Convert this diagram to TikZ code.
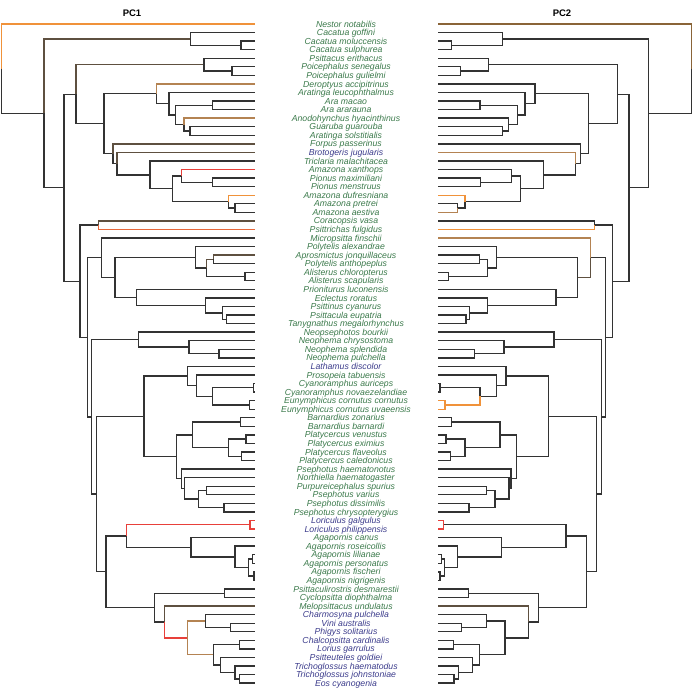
\documentclass[tikz,border=0pt]{standalone}
\usepackage{fontspec}
\setmainfont{Liberation Sans}
\usetikzlibrary{calc}
\definecolor{gcol}{HTML}{3B7A4B}
\definecolor{bcol}{HTML}{3C3C8C}
\definecolor{dk}{HTML}{333333}
\definecolor{brn}{HTML}{5E5040}
\definecolor{obr}{HTML}{B48352}
\definecolor{org}{HTML}{F0923A}
\definecolor{rd}{HTML}{E8403A}
\definecolor{rorg}{HTML}{E8683A}
\definecolor{nbrn}{HTML}{8A6438}
\newcommand\inode[5]{%
  \coordinate (tmpm) at ($(P#4)!0.5!(P#5)$);
  \coordinate (tmpa) at (#2,0);
  \coordinate (tmpb) at (#3,0);
  \coordinate (P#1) at (tmpm -| tmpa);
  \coordinate (Q#1) at (tmpm -| tmpb);
}
\tikzset{
  br/.style={line width=1.35pt},
  lab/.style={font=\fontsize{8.7}{9}\selectfont\itshape, inner sep=0pt, anchor=base},
  ttl/.style={font=\fontsize{9.5}{10}\selectfont\bfseries, inner sep=0pt}
}
\begin{document}
\begin{tikzpicture}[x=1pt,y=-1pt]
\useasboundingbox (0,0) rectangle (693,688);
\fill[white] (0,0) rectangle (693,688);
\node[ttl] (pc1) at (132,13) {PC1};
\node[ttl] (pc2) at (562,13) {PC2};
% leaves
\foreach \i in {1,...,78}{
  \coordinate (P\i) at (255,{24+(\i-1)*8.56});
  \coordinate (Q\i) at (438,{24+(\i-1)*8.56});
}
% internal nodes: id, left x, right x, child1, child2
\inode{cA}{241}{451.7}{3}{4}
\inode{cB}{190.7}{502.7}{2}{cA}
\inode{pA}{232}{460.7}{6}{7}
\inode{pB}{204}{488.3}{5}{pA}
\inode{aA}{212.3}{480}{10}{11}
\inode{aB}{190}{502.7}{13}{14}
\inode{aC}{184}{508.3}{12}{aB}
\inode{aD}{175.7}{517.3}{aA}{aC}
\inode{aE}{169}{525}{9}{aD}
\inode{aF}{156.7}{535}{8}{aE}
\inode{zA}{212.3}{480.7}{19}{20}
\inode{zB}{181.7}{511.7}{18}{zA}
\inode{zC}{235}{457.7}{22}{23}
\inode{zD}{228.3}{465}{21}{zC}
\inode{zE}{172.3}{520.7}{zB}{zD}
\inode{zF}{150}{543.3}{17}{zE}
\inode{zG}{117}{575.7}{16}{zF}
\inode{zH}{113}{580.7}{15}{zG}
\inode{aG}{104}{588.3}{aF}{zH}
\inode{pC}{76}{617.7}{pB}{aG}
\inode{kA}{98.3}{594.3}{24}{25}
\inode{yA}{213.3}{479.3}{28}{29}
\inode{yB}{245}{448.3}{30}{31}
\inode{yC}{206.7}{487.3}{yA}{yB}
\inode{yD}{195.7}{496.7}{27}{yC}
\inode{sA}{226.7}{466}{35}{36}
\inode{sB}{222.7}{469.3}{34}{sA}
\inode{sC}{205.7}{487.3}{33}{sB}
\inode{sD}{136.7}{556}{32}{sC}
\inode{yE}{115}{577.3}{yD}{sD}
\inode{mA}{101.7}{590.7}{26}{yE}
\inode{nA}{219}{474.3}{39}{40}
\inode{nB}{189}{504}{38}{nA}
\inode{nC}{138.3}{554}{37}{nB}
\inode{cyA}{253.3}{440}{43}{44}
\inode{cyB}{249.3}{445}{45}{46}
\inode{cyC}{212.7}{480}{cyA}{cyB}
\inode{cyD}{196.7}{496.7}{42}{cyC}
\inode{cyE}{187.7}{506}{41}{cyD}
\inode{plA}{240.7}{451.7}{47}{48}
\inode{plB}{246}{446}{49}{50}
\inode{plC}{241.7}{450.7}{51}{52}
\inode{plD}{228.3}{465}{plB}{plC}
\inode{plE}{192.3}{500}{plA}{plD}
\inode{psA}{206.7}{486.7}{55}{56}
\inode{psB}{224}{469}{57}{58}
\inode{psC}{198.3}{495}{psA}{psB}
\inode{psD}{184.3}{509}{54}{psC}
\inode{psE}{181.7}{511}{53}{psD}
\inode{plF}{176.7}{516.7}{plE}{psE}
\inode{cyF}{144}{548.3}{cyE}{plF}
\inode{loA}{250}{443.3}{59}{60}
\inode{agA}{252.3}{441.7}{63}{64}
\inode{agB}{254}{440}{65}{66}
\inode{agC}{248.3}{444.3}{agA}{agB}
\inode{agD}{235}{457.7}{62}{agC}
\inode{agE}{191}{501.7}{61}{agD}
\inode{loB}{126.7}{566}{loA}{agE}
\inode{lrA}{224.3}{468.3}{67}{68}
\inode{lrB}{230.7}{461.7}{71}{72}
\inode{lrC}{205.7}{486.7}{70}{lrB}
\inode{lrD}{239.3}{453.3}{73}{74}
\inode{lrE}{239.3}{454}{77}{78}
\inode{lrF}{235}{458.7}{76}{lrE}
\inode{lrG}{220.7}{472.3}{75}{lrF}
\inode{lrH}{213.3}{479.3}{lrD}{lrG}
\inode{lrI}{187.7}{505}{lrC}{lrH}
\inode{lrJ}{164.3}{528.3}{69}{lrI}
\inode{lrK}{154.3}{538.3}{lrA}{lrJ}
\inode{loC}{106}{586.7}{loB}{lrK}
\inode{bA}{96.7}{596.7}{cyF}{loC}
\inode{bB}{91.7}{601.7}{nC}{bA}
\inode{bC}{87.3}{605.7}{mA}{bB}
\inode{bD}{80}{612.7}{kA}{bC}
\inode{bE}{64}{629}{pC}{bD}
\inode{bF}{44}{648.3}{cB}{bE}
\inode{root}{1.5}{691.5}{1}{bF}
% branches: parent/child/left colour/right colour
\foreach \p/\c/\lc/\rc in {
 root/1/org/nbrn, root/bF/dk/dk, bF/cB/brn/dk, bF/bE/dk/dk,
 cB/2/dk/dk, cB/cA/dk/dk, cA/3/dk/dk, cA/4/dk/dk,
 bE/pC/dk/dk, bE/bD/dk/dk, pC/pB/brn/dk, pC/aG/dk/dk,
 pB/5/dk/dk, pB/pA/dk/dk, pA/6/dk/dk, pA/7/dk/dk,
 aG/aF/dk/dk, aG/zH/dk/dk, aF/8/obr/dk, aF/aE/dk/dk,
 aE/9/dk/dk, aE/aD/dk/dk, aD/aA/dk/dk, aD/aC/dk/dk,
 aA/10/dk/dk, aA/11/dk/dk, aC/12/obr/dk, aC/aB/dk/dk,
 aB/13/dk/dk, aB/14/dk/dk,
 zH/15/brn/dk, zH/zG/dk/dk, zG/16/brn/obr, zG/zF/dk/dk,
 zF/17/dk/dk, zF/zE/dk/dk, zE/zB/dk/dk, zE/zD/dk/dk,
 zB/18/rd/dk, zB/zA/dk/dk, zA/19/dk/dk, zA/20/dk/dk,
 zD/21/org/org, zD/zC/dk/dk, zC/22/dk/dk, zC/23/dk/obr,
 bD/kA/dk/dk, bD/bC/dk/dk, kA/24/brn/dk, kA/25/rorg/org,
 bC/mA/dk/dk, bC/bB/dk/dk, mA/26/dk/obr, mA/yE/dk/brn,
 yE/yD/dk/dk, yE/sD/dk/dk, yD/27/dk/dk, yD/yC/dk/dk,
 yC/yA/brn/dk, yC/yB/dk/dk, yA/28/brn/dk, yA/29/dk/dk,
 yB/30/dk/dk, yB/31/dk/dk,
 sD/32/dk/dk, sD/sC/dk/dk, sC/33/dk/dk, sC/sB/dk/dk,
 sB/34/dk/dk, sB/sA/dk/dk, sA/35/dk/dk, sA/36/dk/dk,
 bB/nC/dk/dk, bB/bA/dk/dk, nC/37/dk/dk, nC/nB/dk/dk,
 nB/38/dk/dk, nB/nA/dk/dk, nA/39/dk/dk, nA/40/dk/dk,
 bA/cyF/dk/dk, bA/loC/dk/dk, cyF/cyE/dk/dk, cyF/plF/dk/dk,
 cyE/41/dk/dk, cyE/cyD/dk/dk, cyD/42/dk/dk, cyD/cyC/dk/dk,
 cyC/cyA/dk/dk, cyC/cyB/dk/org, cyA/43/dk/dk, cyA/44/dk/dk,
 cyB/45/dk/org, cyB/46/dk/org,
 plF/plE/dk/dk, plF/psE/dk/dk, plE/plA/dk/dk, plE/plD/dk/dk,
 plA/47/dk/dk, plA/48/dk/dk, plD/plB/dk/dk, plD/plC/dk/dk,
 plB/49/dk/dk, plB/50/dk/dk, plC/51/dk/dk, plC/52/dk/dk,
 psE/53/dk/dk, psE/psD/dk/dk, psD/54/dk/dk, psD/psC/dk/dk,
 psC/psA/dk/dk, psC/psB/dk/dk, psA/55/dk/dk, psA/56/dk/dk,
 psB/57/dk/dk, psB/58/dk/dk,
 loC/loB/dk/dk, loC/lrK/dk/dk, loB/loA/rd/dk, loB/agE/dk/dk,
 loA/59/rd/rd, loA/60/rd/rd,
 agE/61/dk/dk, agE/agD/dk/dk, agD/62/dk/dk, agD/agC/dk/dk,
 agC/agA/dk/dk, agC/agB/dk/dk, agA/63/dk/dk, agA/64/dk/dk,
 agB/65/dk/dk, agB/66/dk/dk,
 lrK/lrA/dk/dk, lrK/lrJ/dk/dk, lrA/67/dk/dk, lrA/68/dk/dk,
 lrJ/69/brn/brn, lrJ/lrI/rd/dk, lrI/lrC/obr/dk, lrI/lrH/obr/dk,
 lrC/70/dk/dk, lrC/lrB/dk/dk, lrB/71/dk/dk, lrB/72/dk/dk,
 lrH/lrD/dk/dk, lrH/lrG/dk/dk, lrD/73/dk/dk, lrD/74/dk/dk,
 lrG/75/dk/dk, lrG/lrF/dk/dk, lrF/76/dk/dk, lrF/lrE/dk/dk,
 lrE/77/dk/dk, lrE/78/dk/dk}{
  \draw[br,\lc] (P\p) |- (P\c);
  \draw[br,\rc] (Q\p) |- (Q\c);
}
% labels
\foreach \i/\t/\c in {
 1/Nestor notabilis/gcol, 2/Cacatua goffini/gcol, 3/Cacatua moluccensis/gcol,
 4/Cacatua sulphurea/gcol, 5/Psittacus erithacus/gcol, 6/Poicephalus senegalus/gcol,
 7/Poicephalus gulielmi/gcol, 8/Deroptyus accipitrinus/gcol, 9/Aratinga leucophthalmus/gcol,
 10/Ara macao/gcol, 11/Ara ararauna/gcol, 12/Anodohynchus hyacinthinus/gcol,
 13/Guaruba guarouba/gcol, 14/Aratinga solstitialis/gcol, 15/Forpus passerinus/gcol,
 16/Brotogeris jugularis/bcol, 17/Triclaria malachitacea/gcol, 18/Amazona xanthops/gcol,
 19/Pionus maximiliani/gcol, 20/Pionus menstruus/gcol, 21/Amazona dufresniana/gcol,
 22/Amazona pretrei/gcol, 23/Amazona aestiva/gcol, 24/Coracopsis vasa/gcol,
 25/Psittrichas fulgidus/gcol, 26/Micropsitta finschii/gcol, 27/Polytelis alexandrae/gcol,
 28/Aprosmictus jonquillaceus/gcol, 29/Polytelis anthopeplus/gcol, 30/Alisterus chloropterus/gcol,
 31/Alisterus scapularis/gcol, 32/Prioniturus luconensis/gcol, 33/Eclectus roratus/gcol,
 34/Psittinus cyanurus/gcol, 35/Psittacula eupatria/gcol, 36/Tanygnathus megalorhynchus/gcol,
 37/Neopsephotos bourkii/gcol, 38/Neophema chrysostoma/gcol, 39/Neophema splendida/gcol,
 40/Neophema pulchella/gcol, 41/Lathamus discolor/bcol, 42/Prosopeia tabuensis/gcol,
 43/Cyanoramphus auriceps/gcol, 44/Cyanoramphus novaezelandiae/gcol, 45/Eunymphicus cornutus cornutus/gcol,
 46/Eunymphicus cornutus uvaeensis/gcol, 47/Barnardius zonarius/gcol, 48/Barnardius barnardi/gcol,
 49/Platycercus venustus/gcol, 50/Platycercus eximius/gcol, 51/Platycercus flaveolus/gcol,
 52/Platycercus caledonicus/gcol, 53/Psephotus haematonotus/gcol, 54/Northiella haematogaster/gcol,
 55/Purpureicephalus spurius/gcol, 56/Psephotus varius/gcol, 57/Psephotus dissimilis/gcol,
 58/Psephotus chrysopterygius/gcol, 59/Loriculus galgulus/bcol, 60/Loriculus philippensis/bcol,
 61/Agapornis canus/gcol, 62/Agapornis roseicollis/gcol, 63/Agapornis lilianae/gcol,
 64/Agapornis personatus/gcol, 65/Agapornis fischeri/gcol, 66/Agapornis nigrigenis/gcol,
 67/Psittaculirostris desmarestii/gcol, 68/Cyclopsitta diophthalma/gcol, 69/Melopsittacus undulatus/gcol,
 70/Charmosyna pulchella/bcol, 71/Vini australis/bcol, 72/Phigys solitarius/bcol,
 73/Chalcopsitta cardinalis/bcol, 74/Lorius garrulus/bcol, 75/Psitteuteles goldiei/bcol,
 76/Trichoglossus haematodus/bcol, 77/Trichoglossus johnstoniae/bcol, 78/Eos cyanogenia/bcol}{
  \node[lab,text=\c] (lab\i) at (346,{24+(\i-1)*8.56+3.1}) {\t};
}
\end{tikzpicture}
\end{document}
